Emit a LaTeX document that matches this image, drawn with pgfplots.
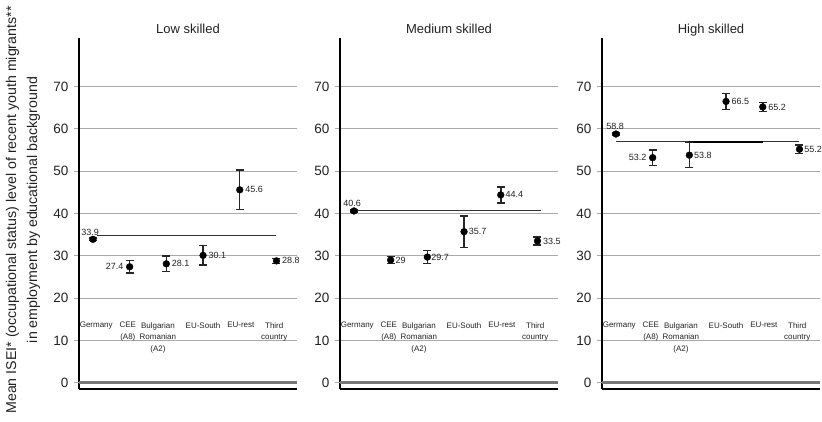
\documentclass[border=0pt]{standalone}
\usepackage{fontspec}
\setmainfont{Liberation Sans}
\usepackage{pgfplots}
\usepackage{pgfplotstable}
\pgfplotsset{compat=1.18}
\definecolor{gridgray}{HTML}{AAAAAA}
\definecolor{zerogray}{HTML}{777777}
\definecolor{txt}{HTML}{222222}

% x  mean  err
\pgfplotstableread{
x y e
0 33.9 0.25
1 27.4 1.45
2 28.1 1.85
3 30.1 2.3
4 45.6 4.65
5 28.8 0.6
}\lowdata
\pgfplotstableread{
x y e
0 40.6 0.25
1 29.0 0.8
2 29.7 1.55
3 35.7 3.75
4 44.4 1.9
5 33.5 0.95
}\meddata
\pgfplotstableread{
x y e
0 58.8 0.25
1 53.2 1.85
2 53.8 2.95
3 66.5 1.9
4 65.2 1.05
5 55.2 1.05
}\highdata

\pgfplotsset{
 panel/.style={
   scale only axis, width=218pt, height=351pt,
   xmin=-0.38, xmax=5.56, ymin=-1.5, ymax=81.5,
   axis lines=left, axis line style={-, line width=1.2pt, black},
   xtick=\empty, ytick={10,20,...,70},
   extra y ticks={0},
   extra y tick style={grid style={zerogray, line width=2.6pt}},
   ymajorgrids, grid style={gridgray, line width=1pt},
   tick align=outside, major tick length=5pt,
   ytick style={gridgray, line width=1pt},
   yticklabel style={font=\fontsize{13.5}{14}\selectfont, text=txt, xshift=-2pt},
   /pgf/number format/assume math mode=true,
   clip=false,
 },
 dots/.style={black, mark=*, mark size=3.4pt, only marks,
   error bars/.cd, y dir=both, y explicit,
   error bar style={line width=1.5pt, black!85},
   error mark options={rotate=90, mark size=4pt, line width=1.5pt, black!85}},
 refline/.style={black!80, line width=1.5pt, no marks},
}
\tikzset{
 cat/.style={font=\fontsize{8}{11.5}\selectfont, text=txt, align=center, anchor=north, inner sep=0pt},
 lab/.style={font=\fontsize{9}{10}\selectfont, text=txt, inner sep=1pt},
 ttl/.style={font=\fontsize{13}{14}\selectfont, text=txt, anchor=base, inner sep=0pt},
}
\newcommand{\cats}{%
  \node[cat] at (axis cs:0.09,14.3) {Germany};
  \node[cat] at (axis cs:0.95,14.3) {CEE\\(A8)};
  \node[cat] at (axis cs:1.77,14.3) {Bulgarian\\Romanian\\(A2)};
  \node[cat] at (axis cs:3.0,14.3) {EU-South};
  \node[cat] at (axis cs:4.03,14.3) {EU-rest};
  \node[cat] at (axis cs:4.94,14.3) {Third\\country};
}

\begin{document}
\begin{tikzpicture}
\useasboundingbox (0,0) rectangle (822pt,-421pt);

\node[rotate=90, align=center, font=\fontsize{14.2}{21}\selectfont, text=txt] at (23pt,-210pt)
  {Mean ISEI* (occupational status) level of recent youth migrants**\\in employment by educational background};

\begin{axis}[panel, at={(79pt,-389pt)}, anchor=south west]
  \addplot[refline] coordinates {(0.1,34.8) (5,34.8)};
  \addplot[dots] table[x=x, y=y, y error=e] {\lowdata};
  \cats
  \node[ttl] at (axis description cs:0.5,1) [yshift=5pt] {Low skilled};
  \node[lab, anchor=south] at (axis cs:-0.08,34.6) {33.9};
  \node[lab, anchor=east] at (axis cs:0.86,27.4) {27.4};
  \node[lab, anchor=west] at (axis cs:2.12,28.1) {28.1};
  \node[lab, anchor=west] at (axis cs:3.12,30.1) {30.1};
  \node[lab, anchor=west] at (axis cs:4.12,45.6) {45.6};
  \node[lab, anchor=west] at (axis cs:5.12,28.8) {28.8};
\end{axis}

\begin{axis}[panel, at={(340pt,-389pt)}, anchor=south west]
  \addplot[refline] coordinates {(0,40.7) (5.1,40.7)};
  \addplot[dots] table[x=x, y=y, y error=e] {\meddata};
  \cats
  \node[ttl] at (axis description cs:0.5,1) [yshift=5pt] {Medium skilled};
  \node[lab, anchor=south] at (axis cs:-0.05,41.4) {40.6};
  \node[lab, anchor=west] at (axis cs:1.1,29.0) {29};
  \node[lab, anchor=west] at (axis cs:2.08,29.7) {29.7};
  \node[lab, anchor=west] at (axis cs:3.1,35.7) {35.7};
  \node[lab, anchor=west] at (axis cs:4.1,44.4) {44.4};
  \node[lab, anchor=west] at (axis cs:5.12,33.5) {33.5};
\end{axis}

\begin{axis}[panel, at={(602pt,-389pt)}, anchor=south west]
  \addplot[refline] coordinates {(0,57.0) (5,57.0)};
  \addplot[black, line width=2.2pt, no marks] coordinates {(2,57.0) (4,57.0)};
  \addplot[dots] table[x=x, y=y, y error=e] {\highdata};
  \cats
  \node[ttl] at (axis description cs:0.5,1) [yshift=5pt] {High skilled};
  \node[lab, anchor=south] at (axis cs:-0.02,59.5) {58.8};
  \node[lab, anchor=east] at (axis cs:0.86,53.2) {53.2};
  \node[lab, anchor=west] at (axis cs:2.1,53.8) {53.8};
  \node[lab, anchor=west] at (axis cs:3.12,66.5) {66.5};
  \node[lab, anchor=west] at (axis cs:4.12,65.2) {65.2};
  \node[lab, anchor=west] at (axis cs:5.1,55.2) {55.2};
\end{axis}
\end{tikzpicture}
\end{document}
